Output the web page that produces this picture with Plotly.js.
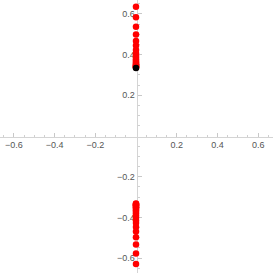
<!DOCTYPE html>
<html><head><meta charset="utf-8">
<script src="https://cdn.plot.ly/plotly-3.0.1.min.js"></script>
<style>html,body{margin:0;padding:0;background:#fff}#c{width:273px;height:273px}</style>
</head><body><div id="c"></div>
<script>
const upperY = [0.635,0.583,0.537,0.498,0.467,0.444,0.423,0.407,0.395,0.385,0.377,0.370,0.364,0.359,0.354,0.350,0.347,0.344,0.342,0.340,0.338,0.336];
const lowerY = [-0.629,-0.577,-0.533,-0.497,-0.469,-0.447,-0.428,-0.415,-0.400,-0.389,-0.380,-0.372,-0.365,-0.359,-0.354,-0.350,-0.346,-0.343,-0.340,-0.338,-0.336,-0.334,-0.332];
const blackPt = {x:[0], y:[0.334]};
const tickVals = [-0.6,-0.4,-0.2,0.2,0.4,0.6];
const tickText = ["\u22120.6","\u22120.4","\u22120.2","0.2","0.4","0.6"];

const redY = upperY.concat(lowerY);
const redX = redY.map(() => 0);

const axisCommon = {
  range:[-0.668,0.672], showgrid:false, zeroline:false,
  showline:true, linecolor:'#d4d4d4', linewidth:1,
  ticks:'inside', ticklen:4, tickcolor:'#c8c8c8', tickwidth:1,
  tickmode:'array', tickvals:tickVals, ticktext:tickText,
  tickfont:{family:'Liberation Sans, Arial, sans-serif', size:9, color:'#555'},
  minor:{tickmode:'array', tickvals:[-0.65,-0.55,-0.5,-0.45,-0.35,-0.3,-0.25,-0.15,-0.1,-0.05,0.05,0.1,0.15,0.25,0.3,0.35,0.45,0.5,0.55,0.65], ticks:'inside', ticklen:2, tickcolor:'#d0d0d0'},
  anchor:'free', position:0.5, layer:'below traces', fixedrange:true
};

Plotly.newPlot('c', [
  {x:redX, y:redY, type:'scatter', mode:'markers', marker:{color:'#ff0000', size:6.5}, hoverinfo:'skip'},
  {x:blackPt.x, y:blackPt.y, type:'scatter', mode:'markers', marker:{color:'#000', size:6.5}, hoverinfo:'skip'}
], {
  width:273, height:273, margin:{l:0,r:0,t:0,b:0},
  paper_bgcolor:'#fff', plot_bgcolor:'#fff', showlegend:false,
  xaxis:Object.assign({}, axisCommon, {range:[-0.668,0.673]}),
  yaxis:Object.assign({}, axisCommon, {range:[-0.673,0.668]})
}, {staticPlot:true});
</script></body></html>
